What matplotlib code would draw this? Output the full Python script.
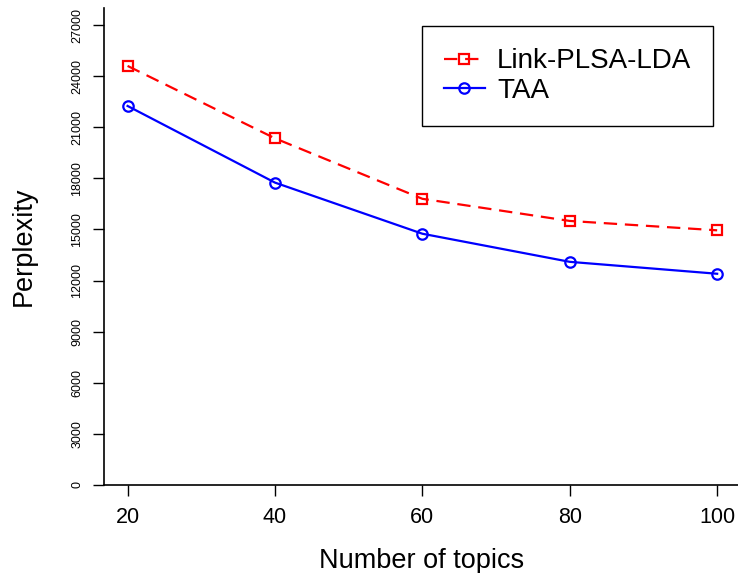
import matplotlib
matplotlib.use("Agg")
import matplotlib.pyplot as plt

"""Chart data"""
topics = [20, 40, 60, 80, 100]
link_plsa_lda = [24600, 20350, 16800, 15500, 14950]
taa = [22250, 17750, 14750, 13100, 12400]
y_ticks = [0, 3000, 6000, 9000, 12000, 15000, 18000, 21000, 24000, 27000]

plt.rcParams['font.family'] = ['Liberation Sans', 'DejaVu Sans']

fig = plt.figure(figsize=(7.38, 5.73), dpi=100)
ax = fig.add_axes([104 / 738, 88 / 573, 636 / 738, 477 / 573])

ax.plot(topics, link_plsa_lda, color='red', linestyle=(0, (6, 3.5)), linewidth=1.6,
        marker='s', markersize=7, markerfacecolor='none', markeredgewidth=1.6,
        label='Link-PLSA-LDA')
ax.plot(topics, taa, color='blue', linewidth=1.6,
        marker='o', markersize=7.5, markerfacecolor='none', markeredgewidth=1.6,
        label='TAA')

ax.set_xlim(16.8, 103.1)
ax.set_ylim(0, 28000)
ax.set_xticks(topics)
ax.set_yticks(y_ticks)
ax.set_xticklabels([str(t) for t in topics], fontsize=15.5)
ax.set_yticklabels([str(t) for t in y_ticks], fontsize=9, rotation=90, va='center')
ax.tick_params(axis='x', length=8, width=1, pad=8)
ax.tick_params(axis='y', length=8, width=1, pad=7)

for side in ['top', 'right']:
    ax.spines[side].set_visible(False)
for side in ['left', 'bottom']:
    ax.spines[side].set_linewidth(1.2)

ax.set_xlabel('Number of topics', fontsize=19.5, labelpad=14)
ax.set_ylabel('Perplexity', fontsize=19.5, labelpad=25)

leg = ax.legend(loc='upper left', bbox_to_anchor=(422 / 738, 1 - 26 / 573),
                bbox_transform=fig.transFigure, fontsize=20, borderpad=0.8,
                handlelength=1.45, handletextpad=0.45, labelspacing=0.12,
                fancybox=False, edgecolor='black', framealpha=1, borderaxespad=0)
leg.get_frame().set_linewidth(1)

fig.savefig('out.png', dpi=100)
